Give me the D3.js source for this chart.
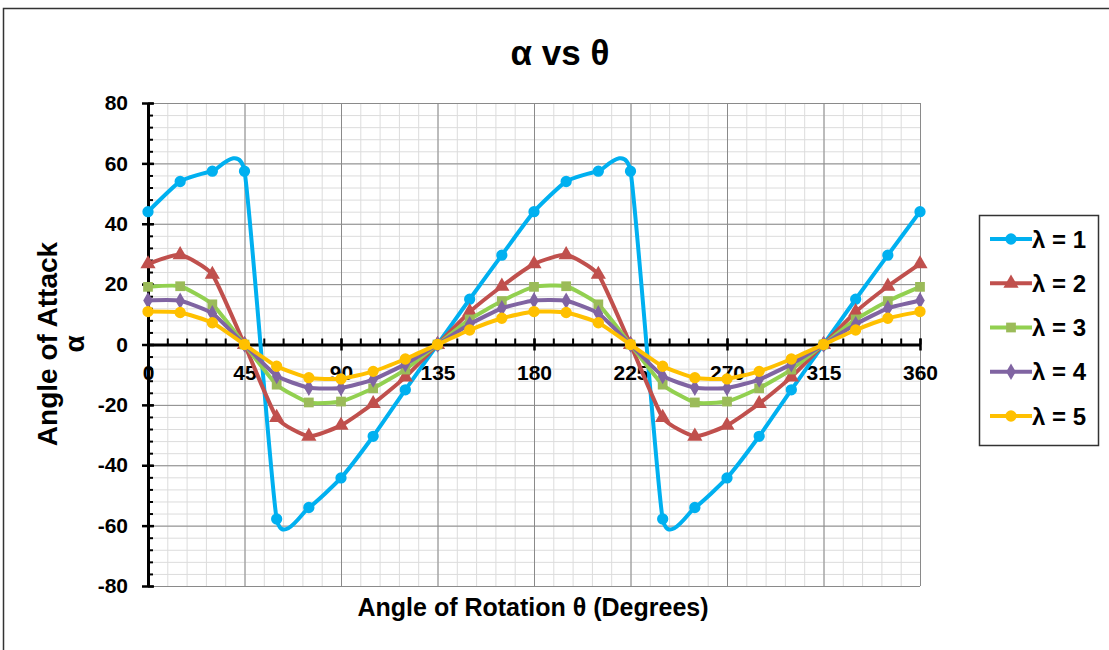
<!DOCTYPE html>
<html>
<head>
<meta charset="utf-8">
<script src="https://cdn.jsdelivr.net/npm/d3@7"></script>
<style>
  body { margin: 0; background: #fff; }
  svg { display: block; font-family: "Liberation Sans", Arial, sans-serif; }
  .axis text { font-weight: bold; fill: #000; }
</style>
</head>
<body>
<svg id="chart" width="1109" height="650"></svg>
<script>
// angle of rotation (degrees)
var theta = [0, 15, 30, 45, 60, 75, 90, 105, 120, 135, 150, 165, 180,
             195, 210, 225, 240, 255, 270, 285, 300, 315, 330, 345, 360];

// angle of attack for each tip speed ratio
var lambda1 = [44, 54, 57.4, 57.4, -57.8, -54, -44.2, -30.4, -15, 0, 15, 29.6, 44,
               54, 57.4, 57.4, -57.8, -54, -44.2, -30.4, -15, 0, 15, 29.6, 44];
var lambda2 = [26.7, 29.7, 23.2, 0, -24.2, -30.4, -26.8, -19.6, -10.8, 0, 10.8, 19.3, 26.7,
               29.7, 23.2, 0, -24.2, -30.4, -26.8, -19.6, -10.8, 0, 10.8, 19.3, 26.7];
var lambda3 = [19.1, 19.3, 13.3, 0, -13.3, -19.2, -18.9, -14.5, -8.3, 0, 8.3, 14.4, 19.1,
               19.3, 13.3, 0, -13.3, -19.2, -18.9, -14.5, -8.3, 0, 8.3, 14.4, 19.1];
var lambda4 = [14.6, 14.5, 10.3, 0, -10.4, -14.3, -14.4, -11.6, -6.5, 0, 6.7, 12, 14.6,
               14.5, 10.3, 0, -10.4, -14.3, -14.4, -11.6, -6.5, 0, 6.7, 12, 14.6];
var lambda5 = [10.9, 10.6, 7.2, 0, -7.2, -11, -11.4, -8.9, -4.8, 0, 4.8, 8.7, 10.9,
               10.6, 7.2, 0, -7.2, -11, -11.4, -8.9, -4.8, 0, 4.8, 8.7, 10.9];

var seriesNames = ["λ = 1", "λ = 2", "λ = 3", "λ = 4", "λ = 5"];
var xTicks = [0, 45, 90, 135, 180, 225, 270, 315, 360];
var yTicks = [-80, -60, -40, -20, 0, 20, 40, 60, 80];

var series = [
  {name: seriesNames[0], values: lambda1, line: "#00b0f0", fill: "#00b0f0", shape: d3.symbolCircle, size: 100},
  {name: seriesNames[1], values: lambda2, line: "#c0504d", fill: "#c0504d", shape: d3.symbolTriangle, size: 100},
  {name: seriesNames[2], values: lambda3, line: "#92d050", fill: "#9bbb59", shape: d3.symbolSquare, size: 95},
  {name: seriesNames[3], values: lambda4, line: "#8064a2", fill: "#8064a2", shape: d3.symbolDiamond, size: 80},
  {name: seriesNames[4], values: lambda5, line: "#ffc000", fill: "#ffc000", shape: d3.symbolCircle, size: 100}
];

var svg = d3.select("#chart");

// outer chart border
svg.append("rect")
  .attr("x", 3.5).attr("y", 8.5)
  .attr("width", 1200).attr("height", 700)
  .attr("fill", "none").attr("stroke", "#333").attr("stroke-width", 1.5);

var x = d3.scaleLinear().domain([0, 360]).range([148, 920]);
var y = d3.scaleLinear().domain([-80, 80]).range([586, 103]);

var minorX = d3.range(0, 361, 9);
var minorY = d3.range(-80, 81, 4);
var plain = function(d) { return String(d); }; // hyphen minus, like the original

// minor gridlines
svg.append("g")
  .attr("transform", "translate(0," + y(-80) + ")")
  .call(d3.axisBottom(x).tickValues(minorX).tickSize(-(y(-80) - y(80))).tickFormat(""))
  .call(g => g.select(".domain").remove())
  .call(g => g.selectAll("line").attr("stroke", "#dcdcdc").attr("stroke-width", 1));
svg.append("g")
  .attr("transform", "translate(" + x(0) + ",0)")
  .call(d3.axisLeft(y).tickValues(minorY).tickSize(-(x(360) - x(0))).tickFormat(""))
  .call(g => g.select(".domain").remove())
  .call(g => g.selectAll("line").attr("stroke", "#dcdcdc").attr("stroke-width", 1));

// major gridlines
svg.append("g")
  .attr("transform", "translate(0," + y(-80) + ")")
  .call(d3.axisBottom(x).tickValues(xTicks).tickSize(-(y(-80) - y(80))).tickFormat(""))
  .call(g => g.select(".domain").remove())
  .call(g => g.selectAll("line").attr("stroke", "#8a8a8a").attr("stroke-width", 1));
svg.append("g")
  .attr("transform", "translate(" + x(0) + ",0)")
  .call(d3.axisLeft(y).tickValues(yTicks).tickSize(-(x(360) - x(0))).tickFormat(""))
  .call(g => g.select(".domain").remove())
  .call(g => g.selectAll("line").attr("stroke", "#8a8a8a").attr("stroke-width", 1));

// y axis with minor ticks on the inside
svg.append("g")
  .attr("transform", "translate(" + x(0) + ",0)")
  .call(d3.axisRight(y).tickValues(minorY).tickSize(5).tickFormat(""))
  .call(g => g.select(".domain").remove())
  .call(g => g.selectAll("line").attr("stroke", "#000").attr("stroke-width", 2));

var yAxis = svg.append("g")
  .attr("class", "axis")
  .attr("transform", "translate(" + x(0) + ",0)")
  .call(d3.axisLeft(y).tickValues(yTicks).tickFormat(plain).tickSizeInner(6).tickSizeOuter(0).tickPadding(14));
yAxis.select(".domain").attr("stroke", "#000").attr("stroke-width", 3);
yAxis.selectAll(".tick line").attr("x1", 6).attr("stroke", "#000").attr("stroke-width", 2.5);
yAxis.selectAll(".tick text").style("font-size", "21px");

// x axis sits on alpha = 0
svg.append("g")
  .attr("transform", "translate(0," + y(0) + ")")
  .call(d3.axisTop(x).tickValues(minorX).tickSize(6).tickFormat(""))
  .call(g => g.select(".domain").remove())
  .call(g => g.selectAll("line").attr("stroke", "#000").attr("stroke-width", 2));

var xAxis = svg.append("g")
  .attr("class", "axis")
  .attr("transform", "translate(0," + y(0) + ")")
  .call(d3.axisBottom(x).tickValues(xTicks).tickFormat(plain).tickSizeInner(6).tickSizeOuter(0).tickPadding(15));
xAxis.select(".domain").attr("stroke", "#000").attr("stroke-width", 3);
xAxis.selectAll(".tick line").attr("y1", -6).attr("stroke", "#000").attr("stroke-width", 2.5);
xAxis.selectAll(".tick text").style("font-size", "21px");

// series lines, smoothed like the spreadsheet
var line = d3.line()
  .x(function(d, i) { return x(theta[i]); })
  .y(function(d) { return y(d); })
  .curve(d3.curveCardinal.tension(0.5));

series.forEach(function(s) {
  var g = svg.append("g");
  g.append("path")
    .attr("d", line(s.values))
    .attr("fill", "none")
    .attr("stroke", s.line)
    .attr("stroke-width", 4)
    .attr("stroke-linejoin", "round");
  g.selectAll("path.pt").data(s.values).enter()
    .append("path")
    .attr("class", "pt")
    .attr("transform", function(d, i) { return "translate(" + x(theta[i]) + "," + y(d) + ")"; })
    .attr("d", d3.symbol().type(s.shape).size(s.size))
    .attr("fill", s.fill);
});

// titles
svg.append("text")
  .attr("x", 560).attr("y", 65)
  .attr("text-anchor", "middle")
  .style("font-size", "35px").style("font-weight", "bold")
  .text("α vs θ");

svg.append("text")
  .attr("x", 533).attr("y", 616)
  .attr("text-anchor", "middle")
  .style("font-size", "25px").style("font-weight", "bold")
  .text("Angle of Rotation θ (Degrees)");

svg.append("text")
  .attr("transform", "translate(57,344) rotate(-90)")
  .attr("text-anchor", "middle")
  .style("font-size", "28px").style("font-weight", "bold")
  .text("Angle of Attack");
svg.append("text")
  .attr("transform", "translate(84,344) rotate(-90)")
  .attr("text-anchor", "middle")
  .style("font-size", "28px").style("font-weight", "bold")
  .text("α");

// legend
var legend = svg.append("g");
legend.append("rect")
  .attr("x", 979.5).attr("y", 215.5)
  .attr("width", 119).attr("height", 230)
  .attr("fill", "#fff").attr("stroke", "#333").attr("stroke-width", 1.5);

var ly = d3.scalePoint().domain(seriesNames).range([239, 416]);

series.forEach(function(s) {
  var row = legend.append("g").attr("transform", "translate(0," + ly(s.name) + ")");
  row.append("line")
    .attr("x1", 990).attr("x2", 1032)
    .attr("stroke", s.line).attr("stroke-width", 4);
  row.append("path")
    .attr("transform", "translate(1011,0)")
    .attr("d", d3.symbol().type(s.shape).size(s.size))
    .attr("fill", s.fill);
  row.append("text")
    .attr("x", 1032).attr("y", 0).attr("dy", "0.36em")
    .style("font-size", "24px").style("font-weight", "bold")
    .text(s.name);
});
</script>
</body>
</html>
